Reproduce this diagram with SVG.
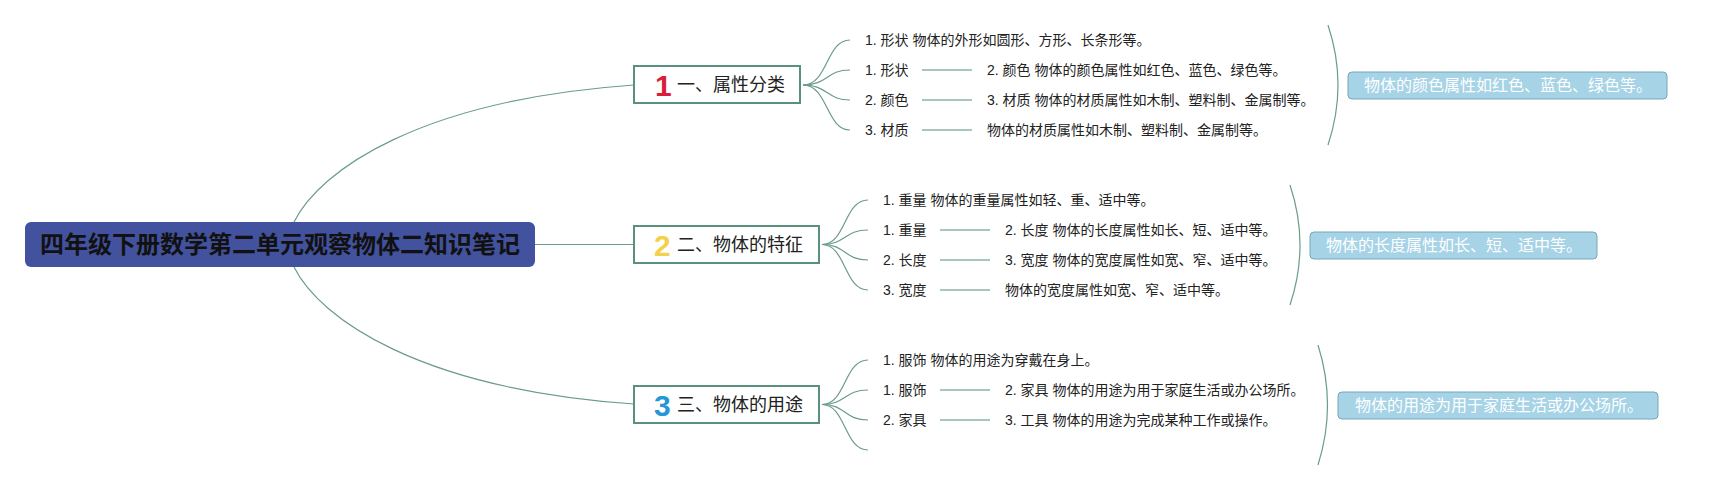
<svg xmlns="http://www.w3.org/2000/svg" width="1712" height="490" viewBox="0 0 1712 490">
<style>
.conn{fill:none;stroke:#6a9c8a;stroke-width:1.2}
.dash{fill:none;stroke:#a9c6bb;stroke-width:2}
.br{fill:#fff;stroke:#5b8f7e;stroke-width:2}
.bt{font-family:"Liberation Sans","Noto Sans CJK SC",sans-serif;font-size:18px;fill:#222}
.num{font-family:"Liberation Sans","Noto Sans CJK SC",sans-serif;font-size:30px;font-weight:bold}
.t{font-family:"Liberation Sans","Noto Sans CJK SC",sans-serif;font-size:14px;fill:#222}
.sum{fill:#a6d3e6;stroke:#74a9b8;stroke-width:1}
.st{font-family:"Liberation Sans","Noto Sans CJK SC",sans-serif;font-size:16px;fill:#fff}
</style>
<rect width="1712" height="490" fill="#fff"/>
<g id="connectors">
<path class="conn" d="M294,222 C320,170 420,100 634,85"/>
<path class="conn" d="M535,244.5 L634,244.5"/>
<path class="conn" d="M294,267 C320,319 420,389 634,404"/>
<path class="conn" d="M803,85 C828,85 826,40 850,40"/>
<path class="conn" d="M803,85 C828,85 826,70 850,70"/>
<path class="conn" d="M803,85 C828,85 826,100 850,100"/>
<path class="conn" d="M803,85 C828,85 826,130 850,130"/>
<path class="conn" d="M822,244.5 C846,244.5 844,200 868,200"/>
<path class="conn" d="M822,244.5 C846,244.5 844,230 868,230"/>
<path class="conn" d="M822,244.5 C846,244.5 844,260 868,260"/>
<path class="conn" d="M822,244.5 C846,244.5 844,290 868,290"/>
<path class="conn" d="M822,404.5 C846,404.5 844,360 868,360"/>
<path class="conn" d="M822,404.5 C846,404.5 844,390 868,390"/>
<path class="conn" d="M822,404.5 C846,404.5 844,420 868,420"/>
<path class="conn" d="M822,404.5 C846,404.5 844,450 868,450"/>
<path class="dash" d="M922,70 H972 M922,100 H972 M922,130 H972"/>
<path class="dash" d="M940,230 H990 M940,260 H990 M940,290 H990"/>
<path class="dash" d="M940,390 H990 M940,420 H990"/>
<path class="conn" d="M1328,25 Q1348,85 1328,145"/>
<path class="conn" d="M1290,185 Q1310,245 1290,305"/>
<path class="conn" d="M1318,345 Q1337,405 1318,465"/>
</g>
<g id="root">
<rect x="25" y="222" width="510" height="45" rx="6" fill="#42529e"/>
<text x="280" y="253" text-anchor="middle" font-family="'Noto Sans CJK SC',sans-serif" font-size="24" font-weight="bold" fill="#111">四年级下册数学第二单元观察物体二知识笔记</text>
</g>
<g id="branch1">
<rect class="br" x="634" y="66" width="166" height="37"/>
<text class="num" x="655" y="96" fill="#d81e3a">1</text>
<text class="bt" x="677" y="91">一、属性分类</text>
</g>
<g id="branch2">
<rect class="br" x="634" y="226" width="185" height="37"/>
<text class="num" x="654" y="256" fill="#f3d14a">2</text>
<text class="bt" x="677" y="251">二、物体的特征</text>
</g>
<g id="branch3">
<rect class="br" x="634" y="386" width="185" height="37"/>
<text class="num" x="654" y="416" fill="#2596d6">3</text>
<text class="bt" x="677" y="411">三、物体的用途</text>
</g>
<g id="leaves1">
<text class="t" x="865" y="45">1. 形状 物体的外形如圆形、方形、长条形等。</text>
<text class="t" x="865" y="75">1. 形状</text>
<text class="t" x="987" y="75">2. 颜色 物体的颜色属性如红色、蓝色、绿色等。</text>
<text class="t" x="865" y="105">2. 颜色</text>
<text class="t" x="987" y="105">3. 材质 物体的材质属性如木制、塑料制、金属制等。</text>
<text class="t" x="865" y="135">3. 材质</text>
<text class="t" x="987" y="135">物体的材质属性如木制、塑料制、金属制等。</text>
</g>
<g id="leaves2">
<text class="t" x="883" y="205">1. 重量 物体的重量属性如轻、重、适中等。</text>
<text class="t" x="883" y="235">1. 重量</text>
<text class="t" x="1005" y="235">2. 长度 物体的长度属性如长、短、适中等。</text>
<text class="t" x="883" y="265">2. 长度</text>
<text class="t" x="1005" y="265">3. 宽度 物体的宽度属性如宽、窄、适中等。</text>
<text class="t" x="883" y="295">3. 宽度</text>
<text class="t" x="1005" y="295">物体的宽度属性如宽、窄、适中等。</text>
</g>
<g id="leaves3">
<text class="t" x="883" y="365">1. 服饰 物体的用途为穿戴在身上。</text>
<text class="t" x="883" y="395">1. 服饰</text>
<text class="t" x="1005" y="395">2. 家具 物体的用途为用于家庭生活或办公场所。</text>
<text class="t" x="883" y="425">2. 家具</text>
<text class="t" x="1005" y="425">3. 工具 物体的用途为完成某种工作或操作。</text>
</g>
<g id="summary1">
<rect class="sum" x="1348" y="72" width="319" height="27" rx="4"/>
<text class="st" x="1364" y="91">物体的颜色属性如红色、蓝色、绿色等。</text>
</g>
<g id="summary2">
<rect class="sum" x="1310" y="232" width="287" height="27" rx="4"/>
<text class="st" x="1326" y="251">物体的长度属性如长、短、适中等。</text>
</g>
<g id="summary3">
<rect class="sum" x="1338" y="392" width="320" height="27" rx="4"/>
<text class="st" x="1355" y="411">物体的用途为用于家庭生活或办公场所。</text>
</g>
</svg>
